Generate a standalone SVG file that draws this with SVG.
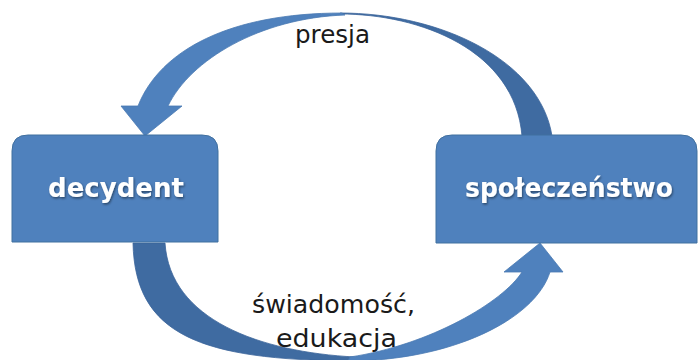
<svg xmlns="http://www.w3.org/2000/svg" width="699" height="360" viewBox="0 0 699 360">
  <defs>
    <filter id="sh" x="-10%" y="-30%" width="120%" height="160%">
      <feDropShadow dx="1" dy="1.5" stdDeviation="1" flood-color="#000" flood-opacity="0.45"/>
    </filter>
  </defs>
  <style>
    .front { fill: #4f81bd; stroke: #4a7ab3; stroke-width: 0.8; }
    .back { fill: #3f6ba1; stroke: #3b659a; stroke-width: 0.8; }
    .box { fill: #4f81bd; stroke: #41709f; stroke-width: 1; }
    .boxlabel { font-family: "DejaVu Sans", "Liberation Sans", sans-serif; font-weight: bold; font-size: 26px; fill: #ffffff; text-anchor: middle; }
    .label { font-family: "DejaVu Sans", "Liberation Sans", sans-serif; font-size: 25px; fill: #1a1a1a; }
  </style>
  <rect width="699" height="360" fill="#ffffff"/>
  <g id="connectors">
    <g id="arrow-presja">
      <path class="back" d="M552,136 C540,60 440,13 340,13 L340,14 C420,14 515,50 522,136 Z"/>
      <path class="front" d="M342,13 C230,13 160,50 138,106 L121,106 L145,136 L182,106 L168,106 C190,60 260,18 345,15 Z"/>
    </g>
    <g id="arrow-swiadomosc">
      <path class="back" d="M133,243 C135,335 200,360 352,361 L355,357 C260,352 170,320 165,243 Z"/>
      <path class="front" d="M348,361 C450,361 535,320 550,272 L563,272 L540,243 L504,272 L522,272 C503,302 430,345 350,357 Z"/>
    </g>
  </g>
  <g id="node-decydent">
    <path class="box" d="M12,242 V151 Q12,135 28,135 H202 Q218,135 218,151 V242 Z"/>
    <text class="boxlabel" x="116" y="197" filter="url(#sh)">decydent</text>
  </g>
  <g id="node-spoleczenstwo">
    <path class="box" d="M436,243 V151 Q436,135 452,135 H681 Q697,135 697,151 V243 Z"/>
    <text class="boxlabel" x="569" y="197" textLength="208" lengthAdjust="spacingAndGlyphs" filter="url(#sh)">społeczeństwo</text>
  </g>
  <g id="labels">
    <text class="label" x="295" y="43" textLength="75" lengthAdjust="spacingAndGlyphs">presja</text>
    <text class="label" x="252" y="313" textLength="163" lengthAdjust="spacingAndGlyphs" font-size="26">świadomość,</text>
    <text class="label" x="276" y="347" textLength="121" lengthAdjust="spacingAndGlyphs" font-size="26">edukacja</text>
  </g>
</svg>
